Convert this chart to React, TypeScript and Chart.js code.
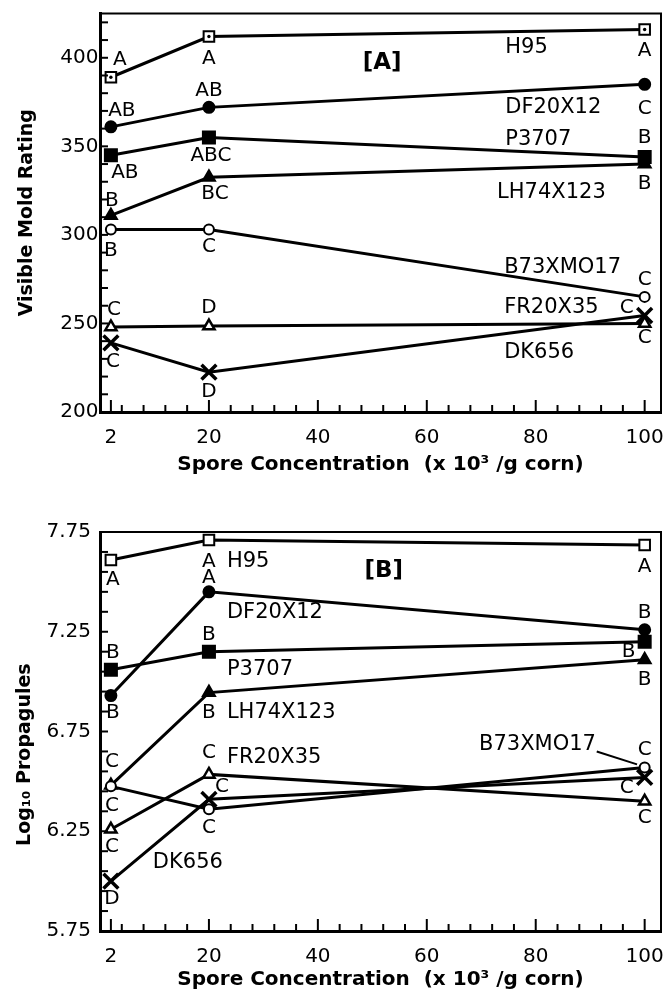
import React, { useEffect, useRef } from 'react';
import { Chart, registerables } from 'chart.js';

Chart.register(...registerables);

const FONT = "'DejaVu Sans', 'Liberation Sans', sans-serif";

// ---------- shared data ----------
const X_VALUES = [2, 20, 100];
const SERIES_NAMES = ['H95', 'DF20X12', 'P3707', 'LH74X123', 'B73XMO17', 'FR20X35', 'DK656'];
const X_TICKS = [2, 20, 40, 60, 80, 100];
const X_MINOR = [4, 8, 12, 16, 24, 28, 32, 36, 44, 48, 52, 56, 64, 68, 72, 76, 84, 88, 92, 96];

// ---------- panel A: visible mold rating ----------
const H95_A = [389, 412, 416];
const DF20X12_A = [361, 372, 385];
const P3707_A = [345, 355, 344];
const LH74X123_A = [311, 332.5, 340];
const B73XMO17_A = [303, 303, 265];
const FR20X35_A = [248, 248.5, 250];
const DK656_A = [239, 222.5, 254.5];

const H95_A_LETTERS = ['A', 'A', 'A'];
const DF20X12_A_LETTERS = ['AB', 'AB', 'C'];
const P3707_A_LETTERS = ['AB', 'ABC', 'B'];
const LH74X123_A_LETTERS = ['B', 'BC', 'B'];
const B73XMO17_A_LETTERS = ['B', 'C', 'C'];
const FR20X35_A_LETTERS = ['C', 'D', 'C'];
const DK656_A_LETTERS = ['C', 'D', 'C'];

const Y_TICKS_A = [200, 250, 300, 350, 400];
const Y_MINOR_A = [210, 220, 230, 240, 260, 270, 280, 290, 310, 320, 330, 340, 360, 370, 380, 390, 410, 420];

// ---------- panel B: log10 propagules ----------
const H95_B = [7.61, 7.71, 7.685];
const DF20X12_B = [6.93, 7.45, 7.26];
const P3707_B = [7.06, 7.15, 7.2];
const LH74X123_B = [6.48, 6.945, 7.11];
const B73XMO17_B = [6.475, 6.36, 6.57];
const FR20X35_B = [6.26, 6.535, 6.4];
const DK656_B = [6.0, 6.41, 6.52];

const H95_B_LETTERS = ['A', 'A', 'A'];
const DF20X12_B_LETTERS = ['B', 'A', 'B'];
const P3707_B_LETTERS = ['B', 'B', 'B'];
const LH74X123_B_LETTERS = ['C', 'B', 'B'];
const B73XMO17_B_LETTERS = ['C', 'C', 'C'];
const FR20X35_B_LETTERS = ['C', 'C', 'C'];
const DK656_B_LETTERS = ['D', 'C', 'C'];

const Y_TICKS_B = [5.75, 6.25, 6.75, 7.25, 7.75];
const Y_MINOR_B = [5.85, 5.95, 6.05, 6.15, 6.35, 6.45, 6.55, 6.65, 6.85, 6.95, 7.05, 7.15, 7.35, 7.45, 7.55, 7.65];

// ---------- layout / styles (kept apart from the data) ----------
const SERIES_STYLE = [
  { pointStyle: 'rect', fill: '#ffffff', radius: 7.5, bw: 2, order: 0 },
  { pointStyle: 'circle', fill: '#000000', radius: 5.5, bw: 2, order: 3 },
  { pointStyle: 'rect', fill: '#000000', radius: 8.5, bw: 2, order: 4 },
  { pointStyle: 'triangle', fill: '#000000', radius: 7, bw: 2, order: 5 },
  { pointStyle: 'circle', fill: '#ffffff', radius: 5, bw: 2, order: 1 },
  { pointStyle: 'triangle', fill: '#ffffff', radius: 6.5, bw: 2.5, order: 2 },
  { pointStyle: 'crossRot', fill: '#000000', radius: 10.5, bw: 3.5, order: 6 },
];

const LETTER_OFFSETS_A = [
  [[9, -17], [0, 22], [0, 21]],
  [[11, -16], [0, -17], [0, 24]],
  [[14, 18], [2, 18], [0, -19]],
  [[1, -15], [6, 16], [0, 20]],
  [[0, 21], [0, 17], [0, -17]],
  [[3, -17], [0, -18], [-18, -16]],
  [[2, 19], [0, 20], [0, 22]],
];
const NAME_POS_A = [
  [74.4, 405.8], [74.4, 372], [74.4, 354], [72.9, 324], [74.2, 281.8], [74.2, 259.2], [74.2, 233.3],
];

const LETTER_OFFSETS_B = [
  [[2, 20], [0, 22], [0, 22]],
  [[2, 17], [0, -14], [0, -17]],
  [[2, -17], [0, -17], [-16, 10]],
  [[1, -24], [0, 20], [0, 20]],
  [[1, 19], [0, 18], [0, -18]],
  [[1, 18], [0, -22], [0, 16]],
  [[1, 18], [13, -13], [-18, 10]],
];
const NAME_POS_B = [
  [23.3, 7.6], [23.3, 7.345], [23.3, 7.06], [23.3, 6.845], [69.6, 6.685], [23.3, 6.62], [9.7, 6.095],
];

const PANEL_A = {
  series: [H95_A, DF20X12_A, P3707_A, LH74X123_A, B73XMO17_A, FR20X35_A, DK656_A],
  letters: [H95_A_LETTERS, DF20X12_A_LETTERS, P3707_A_LETTERS, LH74X123_A_LETTERS, B73XMO17_A_LETTERS, FR20X35_A_LETTERS, DK656_A_LETTERS],
  letterOffsets: LETTER_OFFSETS_A,
  namePos: NAME_POS_A,
  yTicks: Y_TICKS_A,
  yMinor: Y_MINOR_A,
  yMin: 200,
  yMax: 425,
  yTitle: 'Visible Mold Rating',
  yTitlePad: 16,
  yLabelPad: 1.5,
  yFormat: (v: number) => String(v),
  panelLabel: '[A]',
  panelPos: [51.8, 396.8],
  dotDataset: 0,
  leader: null as null | number[][],
  top: 0,
  height: 480,
  padTop: 13,
  xAxisHeight: 68,
  xTitlePad: 3,
};

const PANEL_B = {
  series: [H95_B, DF20X12_B, P3707_B, LH74X123_B, B73XMO17_B, FR20X35_B, DK656_B],
  letters: [H95_B_LETTERS, DF20X12_B_LETTERS, P3707_B_LETTERS, LH74X123_B_LETTERS, B73XMO17_B_LETTERS, FR20X35_B_LETTERS, DK656_B_LETTERS],
  letterOffsets: LETTER_OFFSETS_B,
  namePos: NAME_POS_B,
  yTicks: Y_TICKS_B,
  yMinor: Y_MINOR_B,
  yMin: 5.75,
  yMax: 7.75,
  yTitle: 'Log\u2081\u2080 Propagules\u00A0\u00A0\u00A0\u00A0\u00A0\u00A0\u00A0',
  yTitlePad: 14,
  yLabelPad: 9,
  yFormat: (v: number) => v.toFixed(2),
  panelLabel: '[B]',
  panelPos: [52.1, 7.555],
  dotDataset: -1,
  leader: [[91.2, 6.65], [98.6, 6.585]] as null | number[][],
  top: 480,
  height: 513,
  padTop: 52,
  xAxisHeight: 62,
  xTitlePad: 1,
};

type PanelCfg = typeof PANEL_A;

function makeDecor(p: PanelCfg) {
  return {
    id: 'decor',
    afterDatasetsDraw(chart: any) {
      const { ctx, chartArea: ca } = chart;
      const xs = chart.scales.x;
      const ys = chart.scales.y;
      ctx.save();
      ctx.strokeStyle = '#000';
      ctx.fillStyle = '#000';
      ctx.lineCap = 'butt';

      // frame (top and right)
      ctx.lineWidth = 2;
      ctx.beginPath();
      ctx.moveTo(ca.left, ca.top);
      ctx.lineTo(ca.right, ca.top);
      ctx.lineTo(ca.right, ca.bottom);
      ctx.stroke();

      // inward ticks
      const line = (x1: number, y1: number, x2: number, y2: number) => {
        ctx.beginPath();
        ctx.moveTo(x1, y1);
        ctx.lineTo(x2, y2);
        ctx.stroke();
      };
      ctx.lineWidth = 2;
      X_TICKS.forEach((v) => {
        const px = xs.getPixelForValue(v);
        line(px, ca.bottom, px, ca.bottom - 12);
      });
      X_MINOR.forEach((v) => {
        const px = xs.getPixelForValue(v);
        line(px, ca.bottom, px, ca.bottom - 7);
      });
      [...p.yTicks, ...p.yMinor].forEach((v) => {
        const py = ys.getPixelForValue(v);
        line(ca.left, py, ca.left + 8, py);
      });

      // centre dot in open squares
      if (p.dotDataset >= 0) {
        chart.getDatasetMeta(p.dotDataset).data.forEach((el: any) => {
          ctx.beginPath();
          ctx.arc(el.x, el.y, 1.7, 0, Math.PI * 2);
          ctx.fill();
        });
      }

      // significance letters
      ctx.font = `20px ${FONT}`;
      ctx.textAlign = 'center';
      ctx.textBaseline = 'middle';
      p.letters.forEach((arr, di) => {
        const meta = chart.getDatasetMeta(di);
        arr.forEach((t, pi) => {
          const el = meta.data[pi];
          const [dx, dy] = p.letterOffsets[di][pi];
          ctx.fillText(t, el.x + dx, el.y + dy);
        });
      });

      // series names
      ctx.font = `21px ${FONT}`;
      ctx.textAlign = 'left';
      SERIES_NAMES.forEach((n, i) => {
        const [vx, vy] = p.namePos[i];
        ctx.fillText(n, xs.getPixelForValue(vx), ys.getPixelForValue(vy));
      });

      // panel label
      ctx.font = `bold 23px ${FONT}`;
      ctx.textAlign = 'center';
      ctx.fillText(p.panelLabel, xs.getPixelForValue(p.panelPos[0]), ys.getPixelForValue(p.panelPos[1]));

      // leader line
      if (p.leader) {
        ctx.lineWidth = 2;
        line(
          xs.getPixelForValue(p.leader[0][0]), ys.getPixelForValue(p.leader[0][1]),
          xs.getPixelForValue(p.leader[1][0]), ys.getPixelForValue(p.leader[1][1])
        );
      }
      ctx.restore();
    },
  };
}

function buildConfig(p: PanelCfg): any {
  return {
    type: 'line',
    data: {
      datasets: p.series.map((vals, i) => {
        const s = SERIES_STYLE[i];
        return {
          label: SERIES_NAMES[i],
          data: X_VALUES.map((x, j) => ({ x, y: vals[j] })),
          borderColor: '#000',
          borderWidth: 3,
          backgroundColor: s.fill,
          pointStyle: s.pointStyle,
          pointRadius: s.radius,
          pointBackgroundColor: s.fill,
          pointBorderColor: '#000',
          pointBorderWidth: s.bw,
          tension: 0,
          fill: false,
          order: s.order,
          clip: 20,
        };
      }),
    },
    options: {
      responsive: false,
      animation: false,
      layout: { autoPadding: false, padding: { top: p.padTop, right: 3, left: 0, bottom: 0 } },
      plugins: { legend: { display: false }, tooltip: { enabled: false } },
      scales: {
        x: {
          type: 'linear',
          min: 0,
          max: 103,
          grid: { display: false, drawTicks: false },
          border: { display: true, width: 3, color: '#000' },
          ticks: {
            color: '#000',
            font: { family: FONT, size: 20, lineHeight: '52px' },
            padding: 0,
            autoSkip: false,
            maxRotation: 0,
            callback: (v: number) => String(v),
          },
          afterBuildTicks: (s: any) => {
            s.ticks = X_TICKS.map((v) => ({ value: v }));
          },
          afterFit: (s: any) => {
            s.height = p.xAxisHeight;
          },
          title: {
            display: true,
            text: 'Spore Concentration  (x 10\u00B3 /g corn)',
            color: '#000',
            font: { family: FONT, size: 20, weight: 'bold' },
            padding: { top: 0, bottom: p.xTitlePad },
          },
        },
        y: {
          type: 'linear',
          min: p.yMin,
          max: p.yMax,
          grid: { display: false, drawTicks: false },
          border: { display: true, width: 3, color: '#000' },
          ticks: {
            color: '#000',
            font: { family: FONT, size: 20 },
            padding: p.yLabelPad,
            autoSkip: false,
            callback: (v: number) => p.yFormat(v),
          },
          afterBuildTicks: (s: any) => {
            s.ticks = p.yTicks.map((v) => ({ value: v }));
          },
          afterFit: (s: any) => {
            s.width = 100;
          },
          title: {
            display: true,
            text: p.yTitle,
            color: '#000',
            font: { family: FONT, size: 19, weight: 'bold' },
            padding: { top: p.yTitlePad, bottom: 0 },
          },
        },
      },
    },
    plugins: [makeDecor(p)],
  };
}

function Panel({ cfg }: { cfg: PanelCfg }) {
  const ref = useRef<HTMLCanvasElement>(null);
  useEffect(() => {
    const chart = new Chart(ref.current as HTMLCanvasElement, buildConfig(cfg));
    return () => chart.destroy();
  }, [cfg]);
  return (
    <canvas
      ref={ref}
      width={664}
      height={cfg.height}
      style={{ position: 'absolute', left: 0, top: cfg.top, width: 664, height: cfg.height }}
    />
  );
}

export default function App() {
  return (
    <div style={{ position: 'absolute', left: 0, top: 0, width: 664, height: 993, background: '#fff' }}>
      <Panel cfg={PANEL_A} />
      <Panel cfg={PANEL_B} />
    </div>
  );
}
